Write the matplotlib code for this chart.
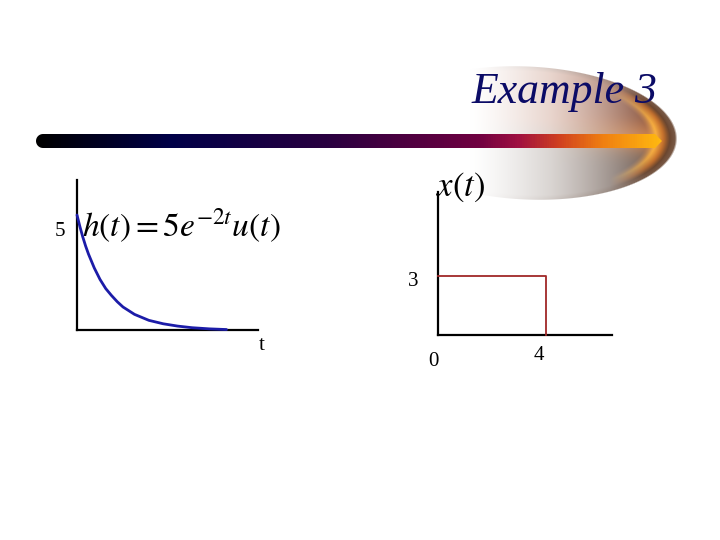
import numpy as np
import matplotlib
matplotlib.use("Agg")
import matplotlib.pyplot as plt
from matplotlib.path import Path
from matplotlib.patches import PathPatch
from matplotlib.colors import LinearSegmentedColormap

plt.rcParams['mathtext.fontset'] = 'stix'

# ---- data ----
title = "Example 3"
h_label = r"$h(t) = 5e^{-2t}u(t)$"
x_label = r"$x(t)$"
h_t = [0.0, 0.05, 0.1, 0.15, 0.2, 0.3, 0.4, 0.5, 0.6, 0.7, 0.8, 1.0, 1.25, 1.5, 1.75, 2.0, 2.3, 2.6]
h_v = [5.0, 4.5, 4.05, 3.65, 3.3, 2.7, 2.2, 1.8, 1.5, 1.23, 1.0, 0.68, 0.42, 0.27, 0.17, 0.1, 0.05, 0.02]
x_t = [0, 0, 4, 4]
x_v = [3, 3, 3, 0]
h_tick = "5"
x_ytick = "3"
x_xticks = ["0", "4"]
h_xlabel = "t"

W, H = 720, 540
fig = plt.figure(figsize=(7.2, 5.4), dpi=100)
bg = fig.add_axes([0, 0, 1, 1])
bg.set_xlim(0, W)
bg.set_ylim(H, 0)
bg.axis('off')

# ---- swoosh behind title (slightly tilted half-ellipse, fading to white on the left) ----
ys, xs = np.mgrid[55:215, 430:700].astype(float)
ys += 0.5
xs += 0.5
cx, cy, a, b = 527.0, 133.0, 150.5, 67.0
th = np.arctan2(7, 150)
dx, dy = xs - cx, ys - cy
u = dx * np.cos(th) + dy * np.sin(th)
v = -dx * np.sin(th) + dy * np.cos(th)
s = np.sqrt((u / a) ** 2 + (v / b) ** 2)
alpha = np.clip((1 - s) * b, 0, 1)

def mix(c1, c2, f):
    return c1 * (1 - f) + c2 * f

d = np.clip((xs - 550) / 115, 0, 1)[..., None]
up = mix(np.array([0.76, 0.55, 0.47]), np.array([0.50, 0.32, 0.25]), d)
dn = mix(np.array([0.60, 0.55, 0.52]), np.array([0.42, 0.35, 0.32]), d)
f_dn = np.clip(0.5 + v / 30, 0, 1)[..., None]
C = mix(up, dn, f_dn)
g = (np.exp(-(v / 16) ** 2) * np.clip((xs - 540) / 110, 0, 1))[..., None]
C = mix(C, np.array([0.92, 0.58, 0.33]), 0.7 * g)
ring_s = [0.80, 0.86, 0.905, 0.95, 1.0]
ring_c = np.array([[0.80, 0.55, 0.35], [0.97, 0.68, 0.25], [0.78, 0.45, 0.18],
                   [0.42, 0.26, 0.16], [0.55, 0.40, 0.30]])
RC = np.dstack([np.interp(s, ring_s, ring_c[:, i]) for i in range(3)])
rw = (np.clip((s - 0.80) / 0.05, 0, 1) * np.clip((xs - 610) / 45, 0, 1))[..., None]
C = mix(C, RC, rw)
edge = (np.clip((s - 0.92) / 0.06, 0, 1) * 0.45)[..., None]
C = mix(C, np.array([0.42, 0.33, 0.28]), edge)
w = (np.clip((xs - 470) / 175, 0, 1) ** 1.3)[..., None]
rgb = mix(np.ones(xs.shape + (3,)), C, w)
img = np.dstack([np.clip(rgb, 0, 1), alpha])
bg.imshow(img, extent=[430, 700, 215, 55], origin='upper', zorder=1, interpolation='bilinear')

# ---- gradient bar ----
stops = [(36, '#000000'), (170, '#000048'), (330, '#2a0040'), (480, '#700040'),
         (520, '#a01040'), (560, '#d04020'), (605, '#f08010'), (662, '#ffb810')]
x0, x1 = stops[0][0], stops[-1][0]
cmap = LinearSegmentedColormap.from_list(
    'bar', [((p - x0) / (x1 - x0), c) for p, c in stops])
grad = np.linspace(0, 1, 600)[None, :]
im = bg.imshow(grad, cmap=cmap, extent=[x0, x1, 148, 134], aspect='auto', zorder=2)
rad = 7
ang = np.linspace(np.pi / 2, 3 * np.pi / 2, 20)
left_cap = [(x0 + rad + rad * np.cos(t), 141 - rad * np.sin(t)) for t in ang]
verts = [(655, 134)] + [(x0 + rad, 134)] + left_cap + [(655, 148), (x1, 141), (655, 134)]
clip = PathPatch(Path(verts), transform=bg.transData, facecolor='none', edgecolor='none')
bg.add_patch(clip)
im.set_clip_path(clip)

# ---- title ----
bg.text(657, 103, title, ha='right', va='baseline', fontsize=31.5,
        family='Liberation Serif', style='italic', color='#0b0b66', zorder=5)

# ---- plots ----
def px_axes(l, r_, b_, t_):
    return fig.add_axes([l / W, 1 - b_ / H, (r_ - l) / W, (b_ - t_) / H])

ax1 = px_axes(77, 258, 330, 180)
ax1.set_xlim(0, 181 / 57.5)
ax1.set_ylim(0, 150 / 23.0)
ax1.plot(h_t, h_v, color='#1c1ca8', lw=2.0, solid_capstyle='round', clip_on=False, zorder=3)
ax2 = px_axes(438, 612, 335, 192)
ax2.set_xlim(0, 174 / 27.0)
ax2.set_ylim(0, 143 / 19.7)
ax2.plot(x_t, x_v, color='#a02828', lw=1.3, clip_on=False, zorder=3)
for ax in (ax1, ax2):
    ax.patch.set_alpha(0)
    for sp in ('top', 'right'):
        ax.spines[sp].set_visible(False)
    for sp in ('left', 'bottom'):
        ax.spines[sp].set_linewidth(1.6)
        ax.spines[sp].set_color('black')
    ax.set_xticks([])
    ax.set_yticks([])

# ---- labels ----
lab = dict(family='Liberation Serif', fontsize=15, color='black', ha='center', va='center', zorder=6)
bg.text(60, 232, h_tick, **lab)
bg.text(262, 345, h_xlabel, **lab)
bg.text(413, 282, x_ytick, **lab)
bg.text(433, 362, x_xticks[0], **lab)
bg.text(539, 355, x_xticks[1], **lab)
bg.text(82, 226, h_label, fontsize=24, ha='left', va='center', zorder=6)
bg.text(436, 187, x_label, fontsize=25, ha='left', va='center', zorder=6)

fig.savefig('out.png', dpi=100)
